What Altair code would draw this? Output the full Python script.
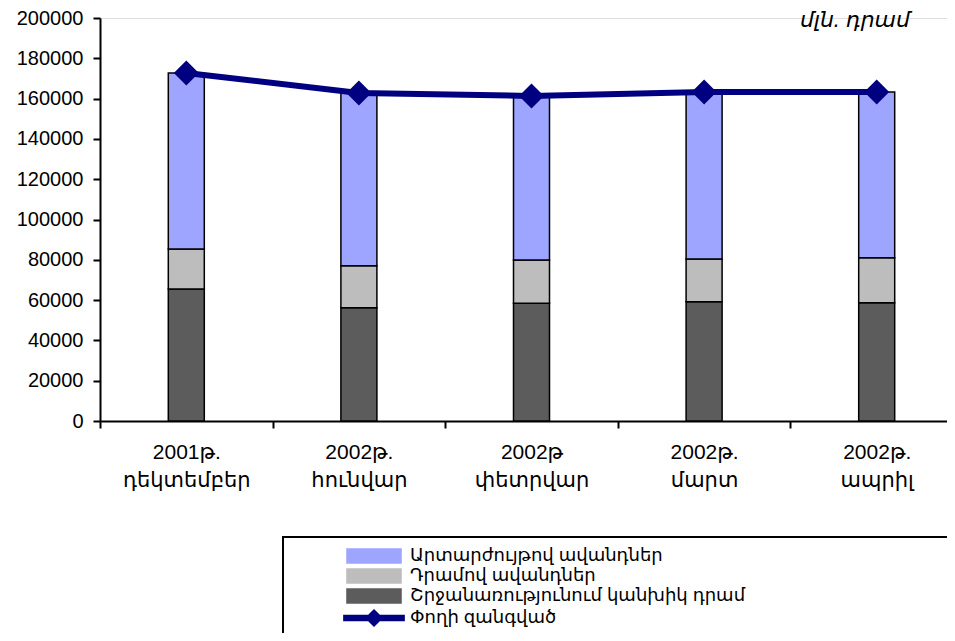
import altair as alt
import pandas as pd

# ---- data ----
periods = ["2001թ.\nդեկտեմբեր", "2002թ.\nհունվար", "2002թ\nփետրվար", "2002թ.\nմարտ", "2002թ.\nապրիլ"]
series_names = ["Արտարժույթով ավանդներ", "Դրամով ավանդներ",
                "Շրջանառությունում կանխիկ դրամ", "Փողի զանգված"]
fx_deposits = [87300, 85700, 81400, 82900, 82300]
dram_deposits = [19900, 20900, 21500, 21200, 22300]
cash = [65500, 56200, 58400, 59200, 58700]
money_supply = [172700, 162800, 161300, 163300, 163300]
y_ticks = [0, 20000, 40000, 60000, 80000, 100000, 120000, 140000, 160000, 180000, 200000]
unit_label = "մլն. դրամ"
series_colors = ["#9DA5FF", "#BDBDBD", "#5C5C5C", "#000080"]
series_outline = ["black", "black", "black", "#000080"]

FONT = "Liberation Sans, DejaVu Sans, sans-serif"

# long table for stacked bars (order 0 = bottom)
rows = []
for i, p in enumerate(periods):
    rows.append({"period": p, "series": series_names[2], "value": cash[i], "ord": 0})
    rows.append({"period": p, "series": series_names[1], "value": dram_deposits[i], "ord": 1})
    rows.append({"period": p, "series": series_names[0], "value": fx_deposits[i], "ord": 2})
bars_df = pd.DataFrame(rows)
line_df = pd.DataFrame({"period": periods, "value": money_supply, "series": series_names[3]})

# the reference's category axis runs past the right edge of the picture
x_scale = alt.Scale(paddingInner=0, paddingOuter=0, range=[0, 863])
x_axis = alt.Axis(labelExpr="split(datum.label, '\\n')", labelAngle=0,
                  tickBand="extent", tickSize=7, tickWidth=2, domainWidth=2,
                  domainColor="black", tickColor="black",
                  labelFontSize=21, labelLineHeight=28, labelPadding=13,
                  labelColor="black", labelFont=FONT)
y_scale = alt.Scale(domain=[0, 200000], nice=False)
y_axis = alt.Axis(values=y_ticks, format="d", grid=False, tickSize=7, tickWidth=2,
                  domainWidth=2, domainColor="black", tickColor="black",
                  labelFontSize=20, labelPadding=10, labelColor="black", labelFont=FONT)
color_scale = alt.Scale(domain=series_names, range=series_colors)

RECT_PATH = "M-3.86,-1H3.86V1H-3.86Z"
LINE_PATH = "M-4.3,-0.36H4.3V0.36H-4.3Z M0,-1.15L1.15,0L0,1.15L-1.15,0Z"
shape_scale = alt.Scale(domain=series_names, range=[RECT_PATH, RECT_PATH, RECT_PATH, LINE_PATH])
stroke_scale = alt.Scale(domain=series_names, range=series_outline)


def make_legend():
    return alt.Legend(
        title=None, orient="none", legendX=265, legendY=529, direction="vertical",
        symbolSize=196, labelFontSize=18, labelFont=FONT, labelColor="black",
        labelOffset=27, rowPadding=0, padding=0, labelLimit=600,
        symbolStrokeWidth=1.5, symbolOpacity=1,
    )


# invisible layer (no rows) that only carries the legend: fill, symbol shape and outline
legend_keys = alt.Chart(bars_df).mark_point(filled=True, strokeWidth=1.5).encode(
    x=alt.X("period:N", sort=periods, scale=x_scale, axis=x_axis, title=None),
    y=alt.Y("value:Q", scale=y_scale, axis=y_axis, title=None),
    color=alt.Color("series:N", scale=color_scale, legend=make_legend()),
    shape=alt.Shape("series:N", scale=shape_scale, legend=make_legend()),
    stroke=alt.Stroke("series:N", scale=stroke_scale, legend=make_legend()),
).transform_filter("false")

bars = alt.Chart(bars_df).mark_bar(size=36, stroke="black", strokeWidth=1.5).encode(
    x=alt.X("period:N", sort=periods, scale=x_scale, axis=x_axis, title=None),
    y=alt.Y("sum(value):Q", scale=y_scale, axis=y_axis, title=None, stack="zero"),
    color=alt.Color("series:N", scale=color_scale, legend=None),
    order=alt.Order("ord:Q", sort="ascending"),
)

line = alt.Chart(line_df).mark_line(strokeWidth=6).encode(
    x=alt.X("period:N", sort=periods, scale=x_scale, title=None),
    y=alt.Y("value:Q", scale=y_scale, title=None),
    color=alt.Color("series:N", scale=color_scale, legend=None),
)
points = alt.Chart(line_df).mark_point(shape="diamond", filled=True, size=625, opacity=1).encode(
    x=alt.X("period:N", sort=periods, scale=x_scale, title=None),
    y=alt.Y("value:Q", scale=y_scale, title=None),
    color=alt.Color("series:N", scale=color_scale, legend=None),
)

unit_text = alt.Chart(pd.DataFrame({"t": [unit_label]})).mark_text(
    align="right", baseline="alphabetic", fontSize=22, fontStyle="italic", font=FONT, color="black"
).encode(x=alt.value(810), y=alt.value(9), text="t:N")

legend_box = alt.Chart(pd.DataFrame({"a": [0]})).mark_rect(
    fill="transparent", stroke="black", strokeWidth=2
).encode(x=alt.value(183), x2=alt.value(950), y=alt.value(519), y2=alt.value(700))

chart = alt.layer(legend_keys, bars, line, points, unit_text, legend_box).properties(
    width=847, height=403,
    autosize=alt.AutoSizeParams(type="none"),
    padding={"left": 92, "top": 10, "right": 0, "bottom": 212},
).configure_view(stroke=None).configure(font=FONT, background="white")

chart.save("out.html", embed_options={"renderer": "svg", "actions": False})
